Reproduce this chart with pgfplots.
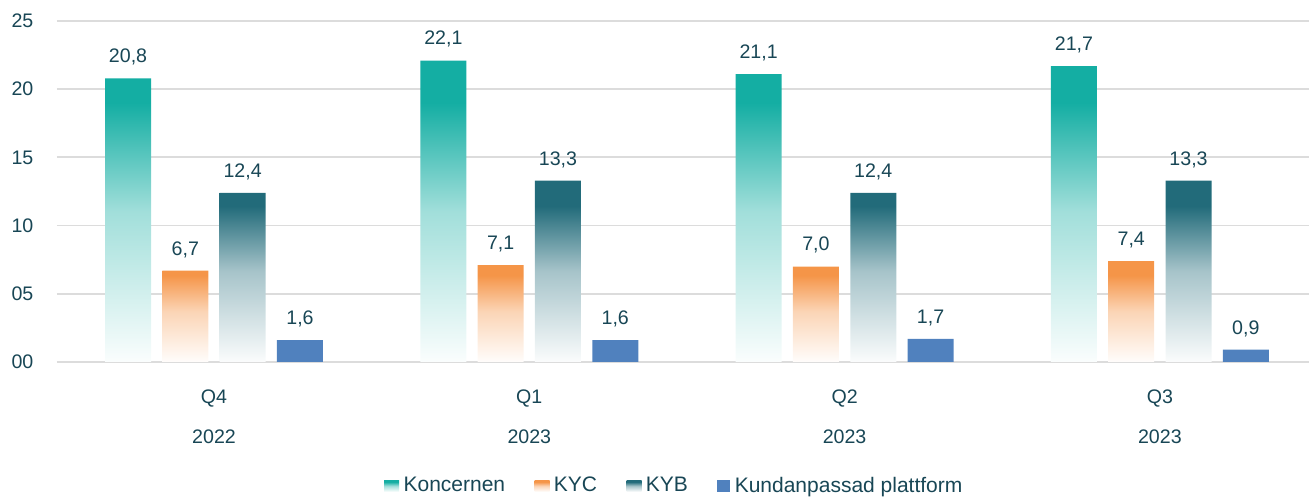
\documentclass[border=0pt]{standalone}
\usepackage{fontspec}
\setmainfont{Liberation Sans}
\usepackage{pgfplots}
\pgfplotsset{compat=1.18}
\definecolor{konc}{HTML}{14AEA3}
\definecolor{kyc}{HTML}{F59548}
\definecolor{kyb}{HTML}{226B7A}
\definecolor{kund}{HTML}{5081BE}
\definecolor{textc}{HTML}{184655}
\definecolor{gridc}{HTML}{DCDCDC}
\pgfdeclareverticalshading{koncsh}{100bp}{color(0bp)=(konc!2!white); color(25bp)=(konc!2!white); color(50bp)=(konc!40!white); color(68bp)=(konc); color(100bp)=(konc)}
\pgfdeclareverticalshading{kycsh}{100bp}{color(0bp)=(kyc!2!white); color(25bp)=(kyc!2!white); color(50bp)=(kyc!40!white); color(68bp)=(kyc); color(100bp)=(kyc)}
\pgfdeclareverticalshading{kybsh}{100bp}{color(0bp)=(kyb!2!white); color(25bp)=(kyb!2!white); color(50bp)=(kyb!40!white); color(68bp)=(kyb); color(100bp)=(kyb)}
\begin{document}
\begin{tikzpicture}
\useasboundingbox (0pt,0pt) rectangle (654.5pt,248.5pt);
\begin{axis}[
  at={(28.5pt,67.5pt)}, anchor=south west,
  scale only axis, width=626pt, height=170.5pt,
  xmin=-0.498, xmax=3.473, ymin=0, ymax=25,
  clip=false,
  ybar, bar width=23pt,
  ytick={0,5,10,15,20,25},
  yticklabels={00,05,10,15,20,25},
  xtick={0,1,2,3},
  xticklabels={{Q4\\2022},{Q1\\2023},{Q2\\2023},{Q3\\2023}},
  ymajorgrids, grid style={line width=0.9pt, color=gridc},
  axis line style={draw=none},
  major tick length=0pt,
  tick label style={font=\fontsize{9.8}{20}\selectfont, text=textc},
  yticklabel style={anchor=east, xshift=-8.3pt},
  xticklabel style={align=center, yshift=-10.5pt},
  nodes near coords={\pgfmathprintnumber[fixed,fixed zerofill,precision=1,use comma,assume math mode=true]{\pgfplotspointmeta}},
  every node near coord/.append style={font=\fontsize{9.8}{11}\selectfont, text=textc, yshift=3pt},
  legend style={at={(0.494,-0.3636)}, anchor=center, draw=none, fill=none,
    legend columns=4, font=\fontsize{10.5}{12}\selectfont, text=textc,
    nodes={inner xsep=2.2pt},
    /tikz/every even column/.append style={column sep=12.5pt},
    legend cell align=left},
]
\addplot[draw=none, shade, shading=koncsh, bar shift=-42.98pt,
  legend image code/.code={\path[shade, shading=koncsh] (0pt,-2.8pt) rectangle (7.5pt,2.8pt);}]
  coordinates {(0,20.8) (1,22.1) (2,21.1) (3,21.7)};
\addlegendentry{Koncernen}
\addplot[draw=none, shade, shading=kycsh, bar shift=-14.33pt,
  legend image code/.code={\path[shade, shading=kycsh] (0pt,-2.8pt) rectangle (7.5pt,2.8pt);}]
  coordinates {(0,6.7) (1,7.1) (2,7.0) (3,7.4)};
\addlegendentry{KYC}
\addplot[draw=none, shade, shading=kybsh, bar shift=14.33pt,
  legend image code/.code={\path[shade, shading=kybsh] (0pt,-2.8pt) rectangle (7.5pt,2.8pt);}]
  coordinates {(0,12.4) (1,13.3) (2,12.4) (3,13.3)};
\addlegendentry{KYB}
\addplot[draw=none, fill=kund, bar shift=42.98pt,
  legend image code/.code={\fill[kund] (0pt,-3.2pt) rectangle (6.5pt,3.2pt);}]
  coordinates {(0,1.6) (1,1.6) (2,1.7) (3,0.9)};
\addlegendentry{Kundanpassad plattform}
\end{axis}
\end{tikzpicture}
\end{document}
